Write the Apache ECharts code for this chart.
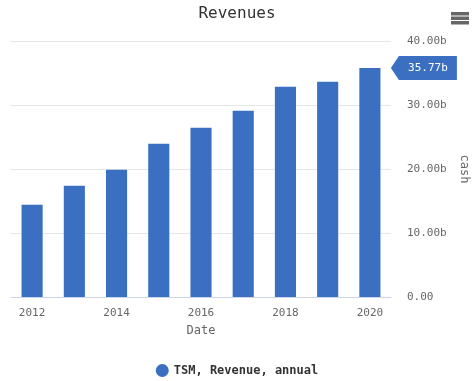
<!DOCTYPE html>
<html><head><meta charset="utf-8">
<script src="https://cdn.jsdelivr.net/npm/echarts@6/dist/echarts.min.js"></script>
<style>html,body{margin:0;padding:0;background:#fff}#c{width:474px;height:381px}</style>
</head><body><div id="c"></div>
<script>
const years = ['2012','2013','2014','2015','2016','2017','2018','2019','2020'];
const revenue = [14.42, 17.39, 19.89, 23.95, 26.45, 29.11, 32.86, 33.64, 35.77];
const yTicks = [0, 10, 20, 30, 40];
const seriesName = 'TSM, Revenue, annual';
const lastValue = revenue[revenue.length - 1];

const mono = '"DejaVu Sans Mono", monospace';
const chart = echarts.init(document.getElementById('c'), null, {renderer: 'canvas'});
chart.setOption({
  animation: false,
  title: {text: 'Revenues', left: 'center', top: 1,
    textStyle: {fontFamily: mono, fontSize: 16, fontWeight: 'normal', color: '#333'}},
  toolbox: {right: -10, top: -3, itemSize: 18,
    feature: {myMenu: {show: true, title: '', icon: 'path://M0,0H20V4H0Z M0,5H20V9H0Z M0,10H20V14H0Z', onclick: function(){}}},
    iconStyle: {color: '#666', borderColor: '#666', borderWidth: 0}},
  legend: {bottom: -1, left: 'center', icon: 'circle', itemWidth: 13, itemHeight: 13, itemGap: 8, padding: [5, 5, 5, 11],
    data: [seriesName],
    textStyle: {fontFamily: mono, fontSize: 12, fontWeight: 'bold', color: '#333'}},
  grid: {left: 11, right: 83, top: 41, bottom: 84, outerBoundsMode: 'none', containLabel: false},
  xAxis: {type: 'category', data: years, name: 'Date', nameLocation: 'middle', nameGap: 28,
    nameTextStyle: {fontFamily: mono, fontSize: 12, color: '#666'},
    axisLine: {lineStyle: {color: '#ccd6eb'}},
    axisTick: {alignWithLabel: true, interval: 1, length: 8, lineStyle: {color: '#ccd6eb'}},
    axisLabel: {interval: 1, fontFamily: mono, fontSize: 11, color: '#666', margin: 11}},
  yAxis: {type: 'value', position: 'right', min: yTicks[0], max: yTicks[yTicks.length-1], interval: 10,
    name: 'cash', nameLocation: 'middle', nameGap: 62, nameRotate: -90,
    nameTextStyle: {fontFamily: mono, fontSize: 12, color: '#666'},
    axisLine: {show: false}, axisTick: {show: false},
    splitLine: {lineStyle: {color: '#e6e6e6'}},
    axisLabel: {fontFamily: mono, fontSize: 11, color: '#666', margin: 16,
      formatter: v => v === 0 ? '0.00' : v.toFixed(2) + 'b'}},
  series: [{
    name: seriesName, type: 'bar', data: revenue, barWidth: '50%',
    itemStyle: {color: '#3a6fc2'},
    markPoint: {
      symbol: 'path://M0,12L8,0L66,0L66,24L8,24Z', symbolSize: [66, 24], symbolOffset: [54, 0],
      itemStyle: {color: '#3a6fc2'},
      label: {show: true, color: '#fff', fontFamily: mono, fontSize: 11, offset: [4, 0],
        formatter: p => p.value.toFixed(2) + 'b'},
      data: [{coord: [years.length - 1, lastValue], value: lastValue}]
    }
  }]
});
</script></body></html>
